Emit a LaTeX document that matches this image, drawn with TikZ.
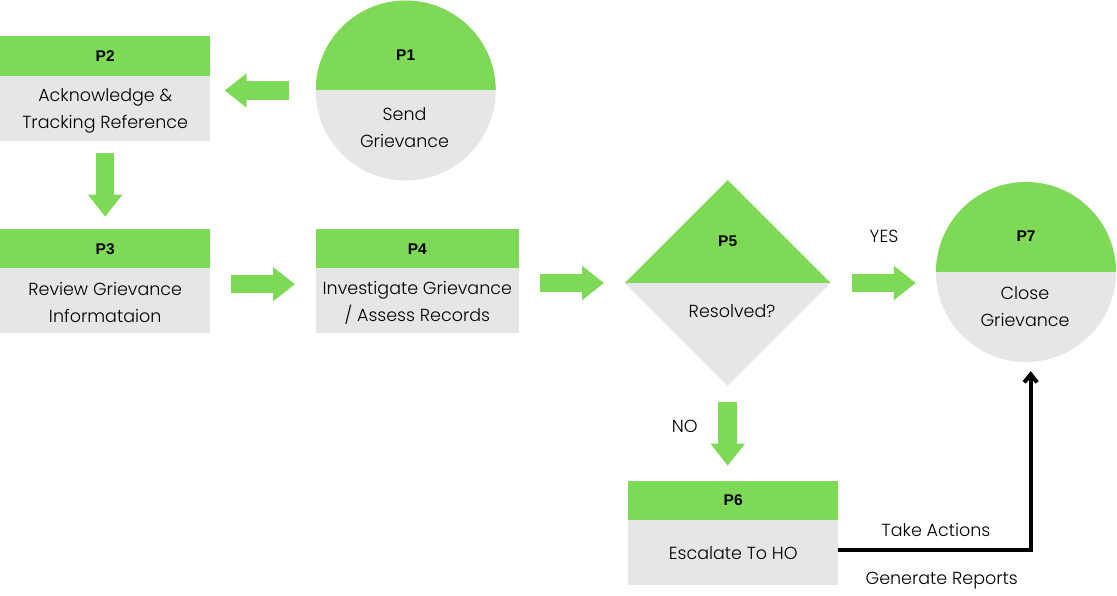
\documentclass[tikz,border=0pt]{standalone}
\usepackage{fontspec}
\setmainfont{Poppins Light}
\newfontfamily\labfont{Liberation Sans}
\usetikzlibrary{arrows.meta,shapes.geometric,calc}
\definecolor{pgreen}{HTML}{7ED957}
\definecolor{pgrey}{HTML}{E6E6E6}
\begin{document}
\begin{tikzpicture}[x=1pt,y=-1pt,
  hdr/.style={fill=pgreen, minimum width=210pt, minimum height=40pt, inner sep=0pt, anchor=north west,
    font=\labfont\bfseries\fontsize{15.5}{17}\selectfont},
  bodybox/.style={fill=pgrey, minimum width=210pt, minimum height=65pt, inner sep=0pt, anchor=north west},
  halfgreen/.style={fill=pgrey, inner sep=0pt,
    path picture={\fill[pgreen] (path picture bounding box.north west) rectangle (path picture bounding box.east);}},
  circ/.style={circle, halfgreen, minimum size=180pt},
  dia/.style={diamond, aspect=1, halfgreen, minimum width=206pt, minimum height=206pt},
  lab/.style={inner sep=0pt, font=\labfont\bfseries\fontsize{15.5}{17}\selectfont},
  txt/.style={inner sep=0pt, align=center, font=\fontsize{17.5}{27}\selectfont},
  barrow/.style={draw=pgreen, line width=18.5pt, -{Triangle[length=22pt,width=33pt]}},
  blackarrow/.style={draw=black, line width=4pt, -{Straight Barb[length=8pt,width=13pt]}}
]
\fill[white] (0,0) rectangle (1117,596);
\useasboundingbox (0,0) rectangle (1117,596);

% P2
\node[hdr] (p2) at (0,36) {P2};
\node[bodybox, minimum height=64.7pt] (p2b) at (0,76) {};
\node[txt] (p2t) at ([yshift=-2.5pt]p2b.center) {Acknowledge \&\\Tracking Reference};
% P3
\node[hdr, minimum height=39pt] (p3) at (0,229) {P3};
\node[bodybox] (p3b) at (0,268) {};
\node[txt] (p3t) at ([yshift=-1.5pt]p3b.center) {Review Grievance\\Informataion};
% P4
\node[hdr, minimum height=39pt, minimum width=203.7pt] (p4) at (315.3,229) {P4};
\node[bodybox, minimum width=203.7pt] (p4b) at (315.3,268) {};
\node[txt] (p4t) at ([yshift=-2.5pt]p4b.center) {Investigate Grievance\\/ Assess Records};
% P6
\node[hdr, minimum height=38.3pt] (p6) at (628,481) {P6};
\node[bodybox, minimum height=65.7pt] (p6b) at (628,519.3) {};
\node[txt] (p6t) at ([yshift=-1pt]p6b.center) {Escalate To HO};

% P1 circle
\node[circ] (p1) at (405.7,90.5) {};
\node[lab] (t1) at (405.7,55) {P1};
\node[txt] (s1) at (404.5,127.3) {Send\\Grievance};

% P5 diamond
\node[dia] (p5) at (727.7,283) {};
\node[lab] (t5) at (727.7,241.7) {P5};
\node[txt] (s5) at (732,311) {Resolved?};

% P7 circle
\node[circ] (p7) at (1026,272) {};
\node[lab] (t7) at (1026,236) {P7};
\node[txt] (s7) at (1025,306.5) {Close\\Grievance};

% labels
\node[txt] (yes) at (884,236) {YES};
\node[txt] (no) at (684.7,426.7) {NO};
\node[txt] (take) at (936,530) {Take Actions};
\node[txt] (gen) at (941.7,581) {Generate Reports};

% block arrows
\draw[barrow, shorten <=26.6pt, shorten >=14.3pt] (p1.west) -- (p2.east |- p1.west);
\draw[barrow, shorten <=12.3pt, shorten >=12.3pt] (p2b.south) -- (p3.north);
\draw[barrow, shorten <=21pt, shorten >=20.3pt] ([yshift=16.5pt]p3b.east) -- ([yshift=16.5pt]p4b.west);
\draw[barrow, shorten <=21pt, shorten >=20.5pt] (p4b.east |- p5.west) -- (p5.west);
\draw[barrow, shorten <=21pt, shorten >=20pt] (p5.east) -- (p7.west |- p5.east);
\draw[barrow, shorten <=16pt, shorten >=15.3pt] (p5.south) -- (p5.south |- p6.north);

% black connector
\draw[blackarrow, shorten >=9pt] ([yshift=2pt]p6b.east) -| ([xshift=4.7pt]p7.south);
\end{tikzpicture}
\end{document}
